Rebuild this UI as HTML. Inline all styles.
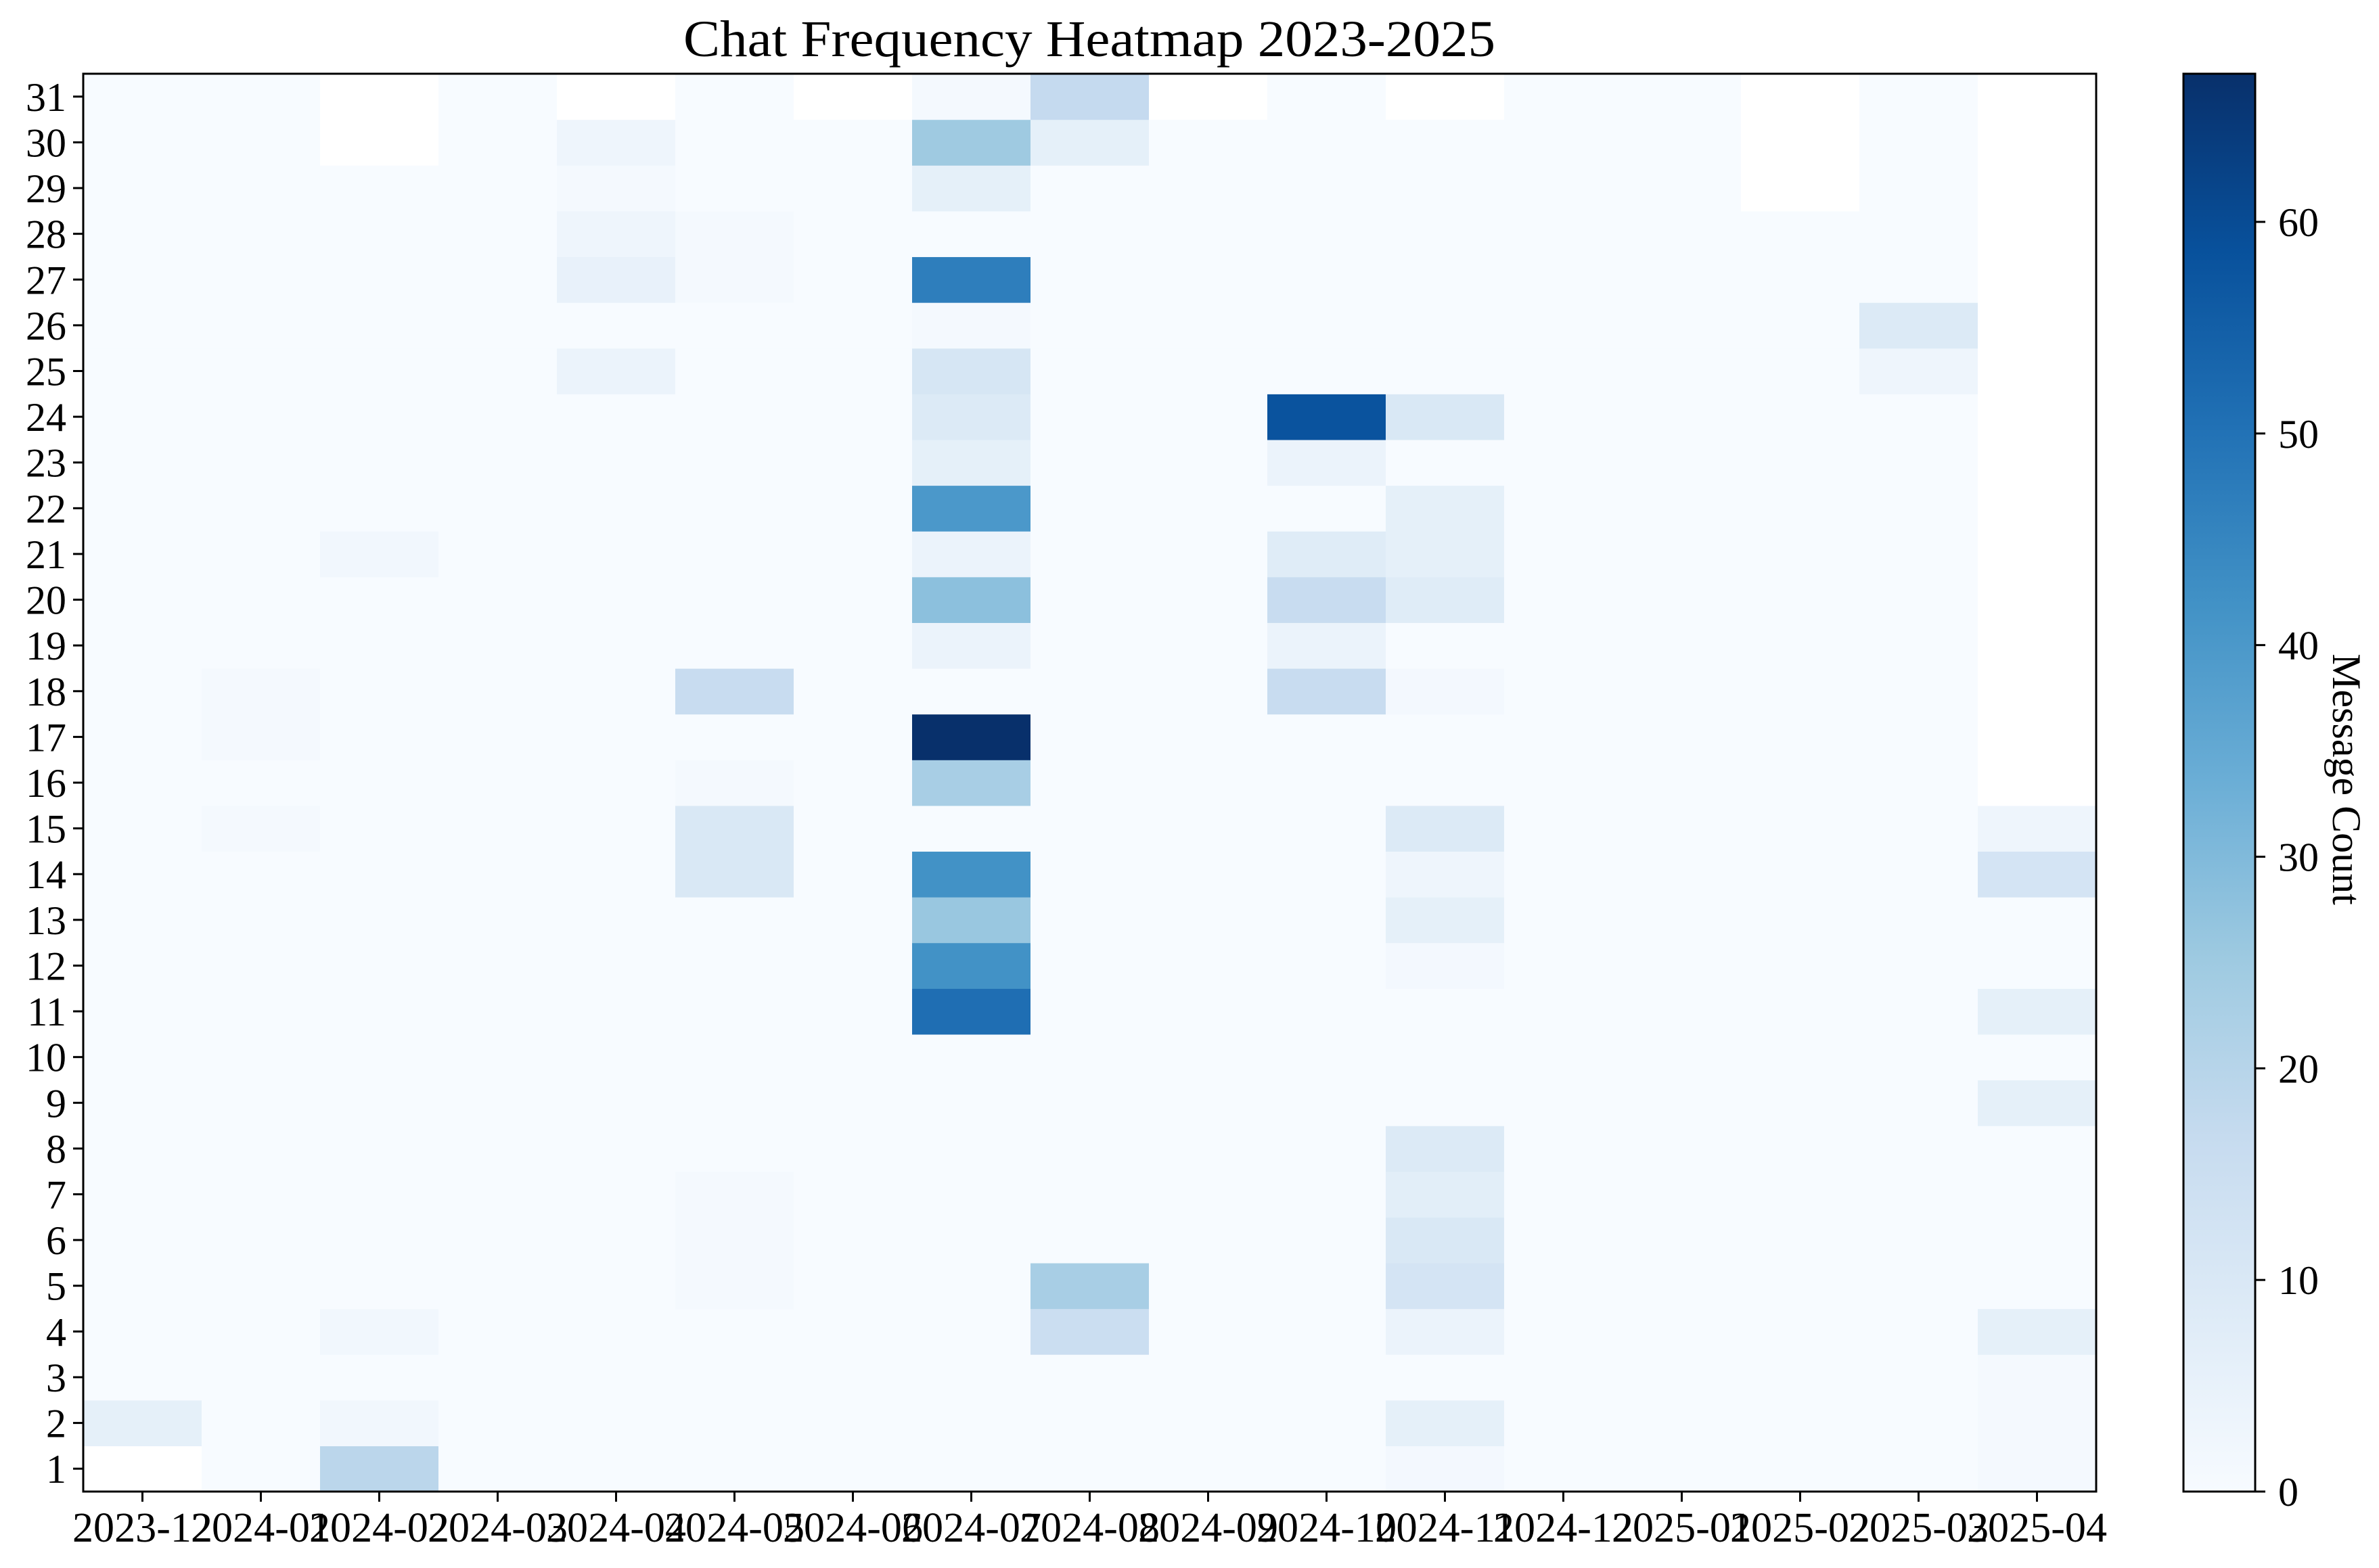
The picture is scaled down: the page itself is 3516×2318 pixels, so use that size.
<!DOCTYPE html>
<html><head><meta charset="utf-8"><style>
html,body{margin:0;padding:0;background:#fff;}
svg{display:block;}
text{font-family:"Liberation Serif",serif;fill:#000;}
</style></head><body>
<svg id="chart" width="3516" height="2318" viewBox="0 0 3516 2318" xmlns="http://www.w3.org/2000/svg">
<defs>
<linearGradient id="cbgrad" x1="0" y1="1" x2="0" y2="0">
<stop offset="0" stop-color="#f7fbff"/><stop offset="0.125" stop-color="#deebf7"/><stop offset="0.25" stop-color="#c6dbef"/><stop offset="0.375" stop-color="#9ecae1"/><stop offset="0.5" stop-color="#6baed6"/><stop offset="0.625" stop-color="#4292c6"/><stop offset="0.75" stop-color="#2171b5"/><stop offset="0.875" stop-color="#08519c"/><stop offset="1" stop-color="#08306b"/>
</linearGradient>
</defs>
<text x="1610" y="83" font-size="76" text-anchor="middle" textLength="1200" lengthAdjust="spacingAndGlyphs">Chat Frequency Heatmap 2023-2025</text>
<g id="cells"></g>
<g id="axes"></g>
<rect x="3227" y="109" width="106" height="2096" fill="url(#cbgrad)" stroke="#000" stroke-width="3"/>
<g id="cbaxis"></g>
<text transform="translate(3448,1152) rotate(90)" font-size="60" text-anchor="middle">Message Count</text>
</svg>
<script>
const months = ["2023-12","2024-01","2024-02","2024-03","2024-04","2024-05","2024-06","2024-07","2024-08","2024-09","2024-10","2024-11","2024-12","2025-01","2025-02","2025-03","2025-04"];
const days = Array.from({length:31},(_,i)=>i+1);
// missing (NaN) cells: [monthIndex, day]
const missing = [[0,1],[2,30],[2,31],[4,31],[6,31],[9,31],[11,31],[14,29],[14,30],[14,31],
 [16,16],[16,17],[16,18],[16,19],[16,20],[16,21],[16,22],[16,23],[16,24],[16,25],[16,26],[16,27],[16,28],[16,29],[16,30],[16,31]];
// non-zero values: [monthIndex, day, count]
const counts = [
 [0,2,6],
 [1,15,1],[1,17,1],[1,18,1],
 [2,1,19],[2,2,2],[2,4,2],[2,21,2],
 [4,25,4],[4,27,5],[4,28,3],[4,29,1],[4,30,3],
 [5,18,16],[5,15,10],[5,14,10],[5,16,1],[5,27,1],[5,28,1],[5,5,1],[5,6,1],[5,7,1],
 [7,31,1],[7,30,25],[7,29,6],[7,27,47],[7,26,1],[7,25,11],[7,24,9],[7,23,6],[7,22,40],[7,21,4],[7,20,28],[7,19,4],[7,17,67],[7,16,23],[7,14,42],[7,13,26],[7,12,42],[7,11,51],
 [8,31,17],[8,30,6],[8,5,23],[8,4,15],
 [10,24,58],[10,23,4],[10,21,8],[10,20,16],[10,19,4],[10,18,16],
 [11,24,10],[11,22,6],[11,21,6],[11,20,8],[11,18,1.5],[11,15,9],[11,14,3],[11,13,6],[11,12,1.5],[11,8,9],[11,7,7],[11,6,10],[11,5,12],[11,4,4],[11,2,6],[11,1,1.5],
 [15,26,9],[15,25,3],
 [16,15,3],[16,14,12],[16,11,6],[16,9,6],[16,4,6],[16,3,1],[16,2,1],[16,1,1]
];
const cbTicks = [0,10,20,30,40,50,60];
const vmax = 67;

const NS="http://www.w3.org/2000/svg";
const L=123,R=3098,T=109,B=2205;
const cw=(R-L)/months.length, rh=(B-T)/days.length;
const xPos=i=>L+i*cw;
const yPos=d=>T+(31-d)*rh;
const stops=["#f7fbff","#deebf7","#c6dbef","#9ecae1","#6baed6","#4292c6","#2171b5","#08519c","#08306b"].map(h=>[1,3,5].map(k=>parseInt(h.substr(k,2),16)));
function blues(v){let t=Math.max(0,Math.min(1,v/vmax))*8;let i=Math.min(7,Math.floor(t));let f=t-i;
 const c=stops[i].map((a,k)=>Math.round(a+(stops[i+1][k]-a)*f));return `rgb(${c[0]},${c[1]},${c[2]})`;}
function mk(tag,attrs,parent){const e=document.createElementNS(NS,tag);for(const k in attrs)e.setAttribute(k,attrs[k]);parent.appendChild(e);return e;}

const grid=months.map(()=>days.map(()=>0));
counts.forEach(([m,d,v])=>{grid[m][d-1]=v;});
missing.forEach(([m,d])=>{grid[m][d-1]=null;});
const cells=document.getElementById('cells');
months.forEach((m,i)=>{days.forEach(d=>{
 const v=grid[i][d-1];
 const r=mk('rect',{x:xPos(i),y:yPos(d),width:cw+0.6,height:rh+0.6,fill:v===null?'#ffffff':blues(v)},cells);
 
 
});});

const ax=document.getElementById('axes');
const frame=mk('rect',{x:L,y:T,width:R-L,height:B-T,fill:'none',stroke:'#000','stroke-width':3},ax);


days.forEach(d=>{
 const y=yPos(d)+rh/2;
 mk('line',{x1:L-15,x2:L,y1:y,y2:y,stroke:'#000','stroke-width':3},ax);
 const t=mk('text',{x:L-25,y:y+21,'font-size':60,'text-anchor':'end'},ax);
 t.textContent=d;
 
 
});
months.forEach((m,i)=>{
 const x=xPos(i)+cw/2;
 mk('line',{x1:x,x2:x,y1:B,y2:B+15,stroke:'#000','stroke-width':3},ax);
 const t=mk('text',{x:x,y:2279,'font-size':62,'text-anchor':'middle',textLength:207,lengthAdjust:'spacingAndGlyphs'},ax);
 t.textContent=m;
 
 
});
const cb=document.getElementById('cbaxis');
cbTicks.forEach(v=>{
 const y=B-(v/vmax)*(B-T);
 mk('line',{x1:3333,x2:3348,y1:y,y2:y,stroke:'#000','stroke-width':3},cb);
 const t=mk('text',{x:3367,y:y+21,'font-size':60},cb);
 t.textContent=v;
 
 
});
</script>
</body></html>
